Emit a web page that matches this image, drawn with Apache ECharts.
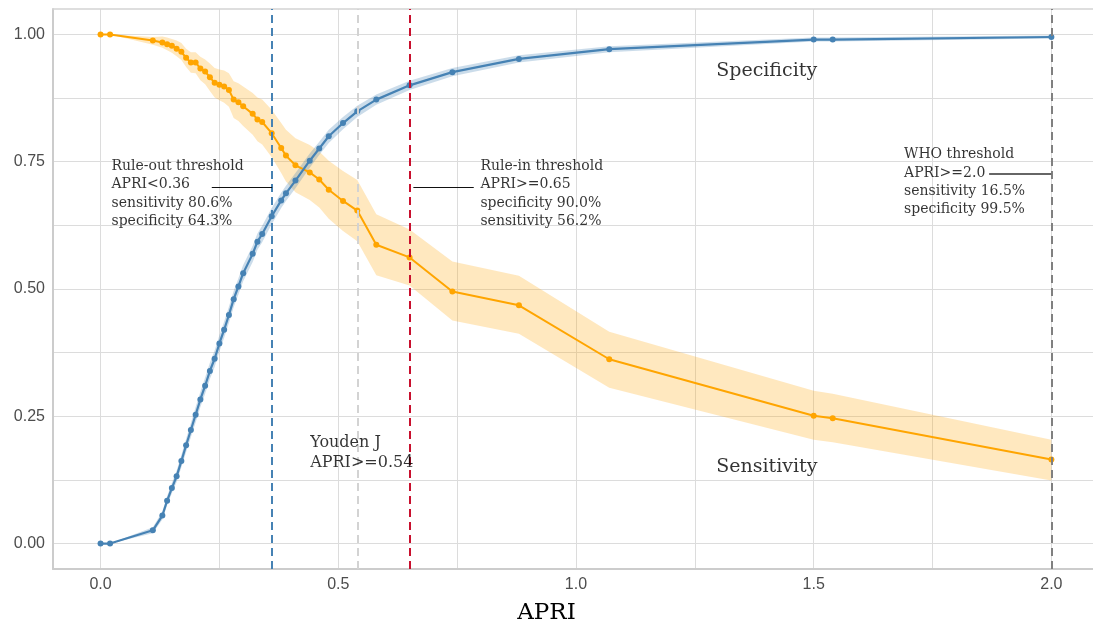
<!DOCTYPE html>
<html>
<head>
<meta charset="utf-8">
<style>
  html, body { margin: 0; padding: 0; background: #fff; }
  #chart { width: 1093px; height: 632px; }
</style>
<script src="https://cdn.jsdelivr.net/npm/echarts@6/dist/echarts.min.js"></script>
</head>
<body>
<div id="chart"></div>
<script>
const apri = [0, 0.02, 0.11, 0.13, 0.14, 0.15, 0.16, 0.17, 0.18, 0.19, 0.20, 0.21, 0.22, 0.23, 0.24, 0.25, 0.26, 0.27, 0.28, 0.29, 0.30, 0.32, 0.33, 0.34, 0.36, 0.38, 0.39, 0.41, 0.44, 0.46, 0.48, 0.51, 0.54, 0.58, 0.65, 0.74, 0.88, 1.07, 1.50, 1.54, 2.00];

const sensitivity = [1.000, 1.000, 0.988, 0.984, 0.981, 0.978, 0.972, 0.966, 0.954, 0.945, 0.945, 0.933, 0.927, 0.916, 0.905, 0.901, 0.898, 0.891, 0.872, 0.867, 0.859, 0.844, 0.833, 0.828, 0.806, 0.777, 0.762, 0.743, 0.729, 0.715, 0.695, 0.673, 0.654, 0.587, 0.562, 0.495, 0.468, 0.362, 0.251, 0.246, 0.165];
const sensLower = [1.000, 1.000, 0.980, 0.974, 0.969, 0.964, 0.957, 0.950, 0.936, 0.925, 0.924, 0.910, 0.902, 0.889, 0.876, 0.871, 0.866, 0.858, 0.836, 0.830, 0.820, 0.803, 0.790, 0.784, 0.759, 0.728, 0.711, 0.690, 0.675, 0.660, 0.638, 0.614, 0.594, 0.527, 0.507, 0.438, 0.412, 0.306, 0.204, 0.199, 0.124];
const sensUpper = [1.000, 1.000, 0.995, 0.996, 0.994, 0.991, 0.988, 0.983, 0.972, 0.965, 0.965, 0.956, 0.951, 0.943, 0.934, 0.931, 0.929, 0.924, 0.908, 0.904, 0.898, 0.885, 0.876, 0.872, 0.852, 0.826, 0.813, 0.796, 0.783, 0.770, 0.752, 0.732, 0.714, 0.647, 0.617, 0.554, 0.526, 0.416, 0.300, 0.294, 0.204];

const specificity = [0.000, 0.000, 0.026, 0.055, 0.084, 0.109, 0.132, 0.162, 0.193, 0.223, 0.253, 0.283, 0.310, 0.339, 0.363, 0.393, 0.420, 0.449, 0.480, 0.505, 0.531, 0.569, 0.593, 0.608, 0.643, 0.674, 0.688, 0.713, 0.752, 0.776, 0.800, 0.826, 0.849, 0.872, 0.900, 0.926, 0.952, 0.971, 0.990, 0.990, 0.995];
const specLower = [0.000, 0.000, 0.020, 0.047, 0.075, 0.099, 0.121, 0.150, 0.180, 0.209, 0.238, 0.268, 0.294, 0.323, 0.347, 0.377, 0.404, 0.433, 0.464, 0.489, 0.515, 0.553, 0.577, 0.592, 0.627, 0.659, 0.673, 0.698, 0.738, 0.763, 0.787, 0.814, 0.838, 0.862, 0.891, 0.918, 0.945, 0.965, 0.986, 0.986, 0.992];
const specUpper = [0.000, 0.000, 0.032, 0.063, 0.093, 0.119, 0.143, 0.174, 0.206, 0.237, 0.268, 0.298, 0.326, 0.355, 0.379, 0.409, 0.436, 0.465, 0.496, 0.521, 0.547, 0.585, 0.609, 0.624, 0.659, 0.689, 0.703, 0.728, 0.766, 0.789, 0.813, 0.838, 0.860, 0.882, 0.909, 0.934, 0.959, 0.977, 0.994, 0.994, 0.998];

const xTickLabels = [0, 0.5, 1, 1.5, 2];
const xGridValues = [0, 0.25, 0.5, 0.75, 1, 1.25, 1.5, 1.75, 2];
const yTickLabels = [0, 0.25, 0.5, 0.75, 1];
const yGridValues = [0, 0.125, 0.25, 0.375, 0.5, 0.625, 0.75, 0.875, 1];

// rule-out, youden, rule-in, WHO
const cutoffs = [0.365, 0.54, 0.653, 2.0];

const pairs = (xs, ys) => xs.map((x, i) => [x, ys[i]]);

const serif = "DejaVu Serif";
const sans = "Liberation Sans";
const X_MIN = -0.1, X_MAX = 2.0875;

function vline(x, color) {
  return { xAxis: x, lineStyle: { color, width: 2, type: [8, 5] } };
}

// one polygon through the upper bounds and back along the lower bounds
function band(name, lower, upper, color) {
  return {
    name, type: "custom", silent: true, z: 1, data: [0],
    renderItem: (params, api) => {
      const top = apri.map((x, i) => api.coord([x, upper[i]]));
      const bottom = apri.map((x, i) => api.coord([x, lower[i]])).reverse();
      return { type: "polygon", shape: { points: top.concat(bottom) }, style: { fill: color } };
    }
  };
}

function note(x, y, text, size, lineHeight) {
  return { value: [x, y], label: { show: true, position: "right", distance: 0, formatter: text,
    fontFamily: serif, fontSize: size, lineHeight, color: "#000" } };
}

const chart = echarts.init(document.getElementById("chart"), null, { renderer: "canvas" });
chart.setOption({
  animation: false,
  grid: { left: 53, top: 9, right: 0, bottom: 63 },
  xAxis: [
    {
      type: "value", min: X_MIN, max: X_MAX,
      axisLine: { show: true, onZero: false, lineStyle: { color: "#cccccc", width: 2 } },
      axisTick: { show: false, customValues: xGridValues },
      axisLabel: { customValues: xTickLabels, formatter: v => v.toFixed(1), fontFamily: sans, fontSize: 16, color: "#4d4d4d", margin: 8 },
      splitLine: { show: true, lineStyle: { color: "#dcdcdc", width: 1 } }
    },
    {
      // only draws the top frame line
      type: "value", position: "top", min: X_MIN, max: X_MAX,
      axisLine: { show: true, onZero: false, lineStyle: { color: "#d4d4d4", width: 1.5 } },
      axisTick: { show: false }, axisLabel: { show: false }, splitLine: { show: false }
    }
  ],
  yAxis: {
    type: "value", min: -0.05, max: 1.05,
    axisLine: { show: true, onZero: false, lineStyle: { color: "#cccccc", width: 2 } },
    axisTick: { show: false, customValues: yGridValues },
    axisLabel: { customValues: yTickLabels, formatter: v => v.toFixed(2), fontFamily: sans, fontSize: 16, color: "#4d4d4d", margin: 8 },
    splitLine: { show: true, lineStyle: { color: "#dcdcdc", width: 1 } }
  },
  graphic: [
    { type: "text", left: "center", top: 602, style: { text: "APRI", font: "23px '" + serif + "'", fill: "#000" } }
  ],
  series: [
    band("sensBand", sensLower, sensUpper, "rgba(255,165,0,0.25)"),
    band("specBand", specLower, specUpper, "rgba(70,130,180,0.28)"),
    {
      name: "cutoffs", type: "line", data: [], silent: true,
      markLine: {
        symbol: "none", silent: true, label: { show: false },
        data: [
          vline(cutoffs[0], "#4682b4"),
          vline(cutoffs[1], "#d3d3d3"),
          vline(cutoffs[2], "#c8102e"),
          vline(cutoffs[3], "#808080"),
          [{ coord: [0.234, 0.699], lineStyle: { color: "#111", width: 1, type: "solid" } }, { coord: [0.361, 0.699] }],
          [{ coord: [0.658, 0.699], lineStyle: { color: "#111", width: 1, type: "solid" } }, { coord: [0.785, 0.699] }],
          [{ coord: [1.869, 0.727], lineStyle: { color: "#666", width: 2, type: "solid" } }, { coord: [2.0, 0.727] }]
        ]
      },
      z: 2
    },
    {
      name: "Sensitivity", type: "line", data: pairs(apri, sensitivity),
      symbol: "circle", symbolSize: 6, itemStyle: { color: "#ffa500" }, lineStyle: { color: "#ffa500", width: 2 }, z: 3
    },
    {
      name: "Specificity", type: "line", data: pairs(apri, specificity),
      symbol: "circle", symbolSize: 6, itemStyle: { color: "#4682b4" }, lineStyle: { color: "#4682b4", width: 2.2 }, z: 4
    },
    {
      name: "notes", type: "scatter", symbolSize: 0, silent: true, z: 5,
      data: [
        note(0.023, 0.687, "Rule-out threshold\nAPRI<0.36\nsensitivity 80.6%\nspecificity 64.3%", 14, 18.3),
        note(0.799, 0.687, "Rule-in threshold\nAPRI>=0.65\nspecificity 90.0%\nsensitivity 56.2%", 14, 18.3),
        note(1.690, 0.710, "WHO threshold\nAPRI>=2.0\nsensitivity 16.5%\nspecificity 99.5%", 14, 18.3),
        note(0.441, 0.178, "Youden J\nAPRI>=0.54", 16, 20),
        note(1.295, 0.929, "Specificity", 19, 24),
        note(1.295, 0.151, "Sensitivity", 19, 24)
      ]
    }
  ]
});
</script>
</body>
</html>
